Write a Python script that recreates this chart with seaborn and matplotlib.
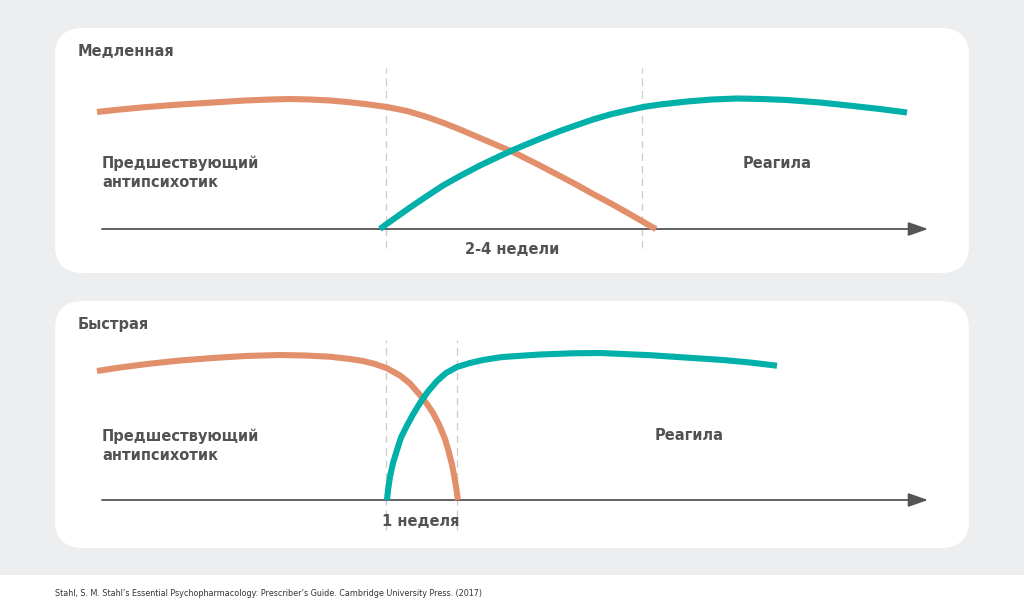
import matplotlib
matplotlib.use("Agg")
import matplotlib.pyplot as plt
from matplotlib.patches import FancyBboxPatch, Rectangle
import pandas as pd
import seaborn as sns

sns.set_theme(style="white")
plt.rcParams['font.family'] = ['DejaVu Sans']

# colours
ORANGE = '#e2906b'
TEAL = '#00b0a9'
TEXT = '#525252'
AXIS = '#555555'
DASH = '#cccccc'

# --- slow switch (x = time position, level = height above baseline) ---
slow_prev_x = [97, 120, 147, 180, 213, 245, 270, 290, 310, 330, 347, 365, 387, 407,
               427, 445, 460, 480, 500, 513, 537, 560, 577, 593, 610, 627, 640, 653, 656]
slow_prev_y = [117, 119.5, 122, 124.5, 126.5, 128.5, 129.5, 130, 129.5, 128.5, 127, 125,
               122, 118, 112, 105.5, 99.5, 91, 82.5, 77, 65, 53, 44, 35, 26, 16.5, 9, 1.5, 0]
slow_new_x = [380, 386, 393, 410, 427, 443, 460, 480, 500, 513, 537, 560, 577, 593, 610,
              627, 643, 660, 687, 712, 737, 762, 787, 820, 853, 880, 907]
slow_new_y = [0, 4.5, 9.5, 21.5, 33, 43.5, 53, 63.5, 73, 79, 89, 98, 104, 109.5, 114.5,
              118.5, 122, 124.5, 127.5, 129.5, 130.5, 130, 129, 126.5, 123, 120, 116.5]
slow_marks = [386, 642]

# --- fast switch ---
fast_prev_x = [97, 120, 147, 180, 213, 245, 280, 305, 330, 350, 363, 375, 387, 400,
               410, 420, 427, 433, 439, 445, 448, 452, 454, 456, 457.5, 458]
fast_prev_y = [129, 132.5, 136, 139.5, 142, 144, 145, 144.5, 143.3, 141, 139, 136, 131.7,
               124.5, 116.5, 105, 96, 87, 75.5, 61, 51, 35.5, 25, 13.5, 3, 0]
fast_new_x = [387, 388, 390, 393, 397, 401, 407, 413, 420, 428, 437, 446, 457, 470, 483,
              500, 507, 540, 573, 600, 623, 650, 673, 700, 723, 750, 777]
fast_new_y = [0, 10, 23.3, 37, 50, 62.5, 74.5, 85.5, 97, 108.5, 119, 127, 133, 137, 140,
              142.7, 143.3, 145.5, 146.7, 147, 146, 144.8, 143.3, 141.5, 140, 137.5, 134.3]
fast_marks = [386, 457]

labels_prev = 'Предшествующий\nантипсихотик'
label_new = 'Реагила'
source = ("Stahl, S. M. Stahl\u2019s Essential Psychopharmacology: Prescriber\u2019s Guide. "
          "Cambridge University Press. (2017)")

W, H = 1024, 616
fig = plt.figure(figsize=(W / 100, H / 100), dpi=100)

# background with panels, in pixel units
bg = fig.add_axes([0, 0, 1, 1])
bg.set_xlim(0, W)
bg.set_ylim(H, 0)
bg.axis('off')
bg.add_patch(Rectangle((0, 0), W, 575, color='#edeef0', lw=0))
bg.add_patch(Rectangle((0, 575), W, 41, color='white', lw=0))
for top, bottom in [(28, 273), (301, 548)]:
    bg.add_patch(FancyBboxPatch((55, top), 914, bottom - top,
                                boxstyle='round,pad=0,rounding_size=28',
                                fc='white', ec='none'))
bg.text(55, 593, source, fontsize=5.75, color='#333333', va='center', ha='left')


def panel(top, bottom, base, title, prev_x, prev_y, new_x, new_y, marks,
          period, period_x, new_label_x):
    ax = fig.add_axes([55 / W, (H - bottom) / H, 914 / W, (bottom - top) / H])
    ax.set_xlim(55, 969)
    ax.set_ylim(base - bottom, base - top)
    ax.axis('off')
    ax.patch.set_alpha(0)

    low, high = (-30, 160) if period == '1 неделя' else (-19, 161)
    for m in marks:
        ax.plot([m, m], [low, high], color=DASH, lw=0.9, ls=(0, (6, 4)), zorder=1)

    ax.annotate('', xy=(928, 0), xytext=(102, 0),
                arrowprops=dict(arrowstyle='-|>,head_length=1.0,head_width=0.35',
                                color=AXIS, lw=1.3, shrinkA=0, shrinkB=0),
                zorder=2)

    prev = pd.DataFrame({'x': prev_x, 'y': prev_y})
    new = pd.DataFrame({'x': new_x, 'y': new_y})
    sns.lineplot(data=prev, x='x', y='y', ax=ax, color=ORANGE, lw=4.4,
                 sort=False, estimator=None, solid_capstyle='butt', zorder=3)
    sns.lineplot(data=new, x='x', y='y', ax=ax, color=TEAL, lw=4.4,
                 sort=False, estimator=None, solid_capstyle='butt', zorder=4)

    ax.text(78, base - (top + 24), title, fontsize=10.5, fontweight='bold',
            color=TEXT, ha='left', va='center')
    ax.text(102, base - (top + 145), labels_prev, fontsize=10.5, fontweight='bold',
            color=TEXT, ha='left', va='center', linespacing=1.3)
    ax.text(new_label_x, base - (top + 135), label_new, fontsize=10.5,
            fontweight='bold', color=TEXT, ha='center', va='center')
    ax.text(period_x, -22 if period == '1 неделя' else -20, period, fontsize=10.5,
            fontweight='bold', color=TEXT, ha='center', va='center')
    return ax


panel(28, 273, 229, 'Медленная', slow_prev_x, slow_prev_y, slow_new_x, slow_new_y,
      slow_marks, '2-4 недели', 512, 777)
panel(301, 548, 500, 'Быстрая', fast_prev_x, fast_prev_y, fast_new_x, fast_new_y,
      fast_marks, '1 неделя', 421, 689)

fig.savefig('out.png', dpi=100)
